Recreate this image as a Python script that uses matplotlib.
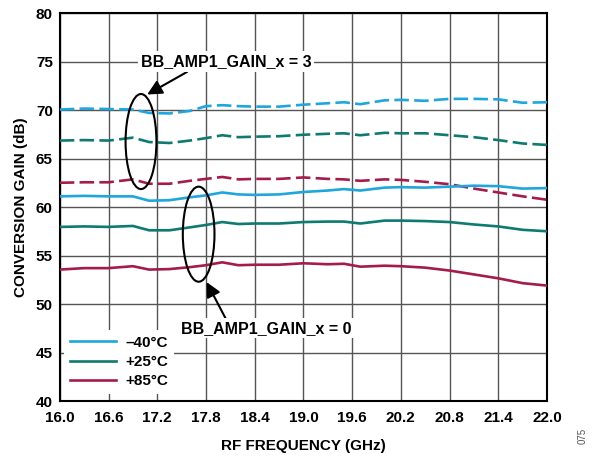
import matplotlib
matplotlib.use('Agg')
import matplotlib.pyplot as plt
from matplotlib.patches import Ellipse
import numpy as np

plt.rcParams['font.family'] = ['Liberation Sans', 'DejaVu Sans']
plt.rcParams['font.weight'] = 'bold'

# RF frequency (GHz)
freq = [16.0, 16.3, 16.6, 16.9, 17.1, 17.35, 17.6, 17.8, 18.0, 18.2, 18.4, 18.7,
        19.0, 19.3, 19.5, 19.7, 20.0, 20.2, 20.5, 20.8, 21.1, 21.4, 21.7, 22.0]

# BB_AMP1_GAIN_x = 3 (dashed)
gain3_m40 = [70.05, 70.15, 70.1, 70.05, 69.7, 69.65, 69.9, 70.4, 70.5, 70.4, 70.35, 70.35,
             70.55, 70.7, 70.8, 70.6, 71.0, 71.05, 70.95, 71.15, 71.15, 71.1, 70.75, 70.8]
gain3_p25 = [66.85, 66.9, 66.85, 67.15, 66.7, 66.6, 66.85, 67.1, 67.4, 67.2, 67.25, 67.3,
             67.45, 67.55, 67.6, 67.4, 67.65, 67.6, 67.6, 67.4, 67.2, 66.9, 66.55, 66.4]
gain3_p85 = [62.5, 62.55, 62.55, 62.85, 62.4, 62.4, 62.7, 62.9, 63.1, 62.85, 62.9, 62.9,
             63.05, 62.9, 62.85, 62.7, 62.85, 62.8, 62.6, 62.35, 61.9, 61.5, 61.1, 60.75]

# BB_AMP1_GAIN_x = 0 (solid)
gain0_m40 = [61.1, 61.15, 61.1, 61.1, 60.65, 60.7, 61.0, 61.2, 61.5, 61.3, 61.25, 61.3,
             61.55, 61.7, 61.85, 61.7, 62.0, 62.05, 62.0, 62.1, 62.2, 62.15, 61.9, 61.95]
gain0_p25 = [57.95, 58.0, 57.95, 58.05, 57.6, 57.6, 57.9, 58.15, 58.45, 58.25, 58.3, 58.3,
             58.45, 58.5, 58.5, 58.3, 58.6, 58.6, 58.55, 58.45, 58.2, 58.0, 57.65, 57.5]
gain0_p85 = [53.55, 53.7, 53.7, 53.9, 53.55, 53.6, 53.8, 54.0, 54.3, 54.0, 54.05, 54.05,
             54.2, 54.1, 54.15, 53.85, 53.95, 53.9, 53.75, 53.45, 53.05, 52.65, 52.15, 51.9]

labels = ['\u201340°C', '+25°C', '+85°C']
colors = ['#1fa6dc', '#0e7a72', '#a51c4b']

fig = plt.figure(figsize=(5.92, 4.57), dpi=100)
ax = fig.add_axes([0.101, 0.1225, 0.823, 0.849])

dash = (0, (5.5, 2.0))
for g, c in zip([gain3_m40, gain3_p25, gain3_p85], colors):
    ax.plot(freq, g, color=c, lw=1.9, linestyle=dash, zorder=3)
for g, c, lab in zip([gain0_m40, gain0_p25, gain0_p85], colors, labels):
    ax.plot(freq, g, color=c, lw=1.9, label=lab, zorder=3)

ax.set_xlim(16.0, 22.0)
ax.set_ylim(40, 80)
ax.set_xticks(np.arange(16.0, 22.01, 0.6))
ax.set_xticklabels([f'{v:.1f}' for v in np.arange(16.0, 22.01, 0.6)])
ax.set_yticks(np.arange(40, 81, 5))
ax.tick_params(axis='x', length=0, labelsize=11, pad=7)
ax.tick_params(axis='y', length=0, labelsize=11, pad=5)
for lbl in ax.get_xticklabels() + ax.get_yticklabels():
    lbl.set_fontweight('bold')
ax.grid(True, color='#555555', lw=1.0, zorder=0)
ax.set_axisbelow(True)
for s in ax.spines.values():
    s.set_linewidth(1.5)
    s.set_color('black')

ax.set_xlabel('RF FREQUENCY (GHz)', fontsize=11, fontweight='bold', labelpad=10)
ax.set_ylabel('CONVERSION GAIN (dB)', fontsize=11, fontweight='bold', labelpad=6)

# ellipses around curve groups
ax.add_patch(Ellipse((17.0, 66.75), 0.38, 9.8, fill=False, ec='black', lw=1.5, zorder=4))
ax.add_patch(Ellipse((17.71, 57.2), 0.39, 9.8, fill=False, ec='black', lw=1.5, zorder=4))

bbox = dict(facecolor='white', edgecolor='none', pad=2)
ax.annotate('BB_AMP1_GAIN_x = 3', xy=(17.076, 71.6), xytext=(18.05, 75.0),
            ha='center', va='center', fontsize=11.5, fontweight='bold', bbox=bbox,
            arrowprops=dict(arrowstyle='-|>', color='black', lw=1.5, mutation_scale=22,
                            shrinkA=0, shrinkB=0, relpos=(0.3, 0.0)), zorder=5)
ax.annotate('BB_AMP1_GAIN_x = 0', xy=(17.807, 52.27), xytext=(18.54, 47.5),
            ha='center', va='center', fontsize=11.5, fontweight='bold', bbox=bbox,
            arrowprops=dict(arrowstyle='-|>', color='black', lw=1.5, mutation_scale=22,
                            shrinkA=0, shrinkB=0, relpos=(0.27, 1.0)), zorder=5)

leg = ax.legend(loc='lower left', bbox_to_anchor=(0.0, 0.005), fontsize=11, frameon=True,
                handlelength=3.0, handletextpad=0.6, labelspacing=0.35, borderpad=0.4,
                borderaxespad=0.3)
leg.get_frame().set_facecolor('white')
leg.get_frame().set_edgecolor('none')
leg.get_frame().set_alpha(1.0)
for t in leg.get_texts():
    t.set_fontweight('bold')

fig.text(0.985, 0.045, '075', rotation=90, fontsize=7, fontweight='normal',
         color='#555555', ha='center', va='center')

fig.savefig('out.png', dpi=100)
